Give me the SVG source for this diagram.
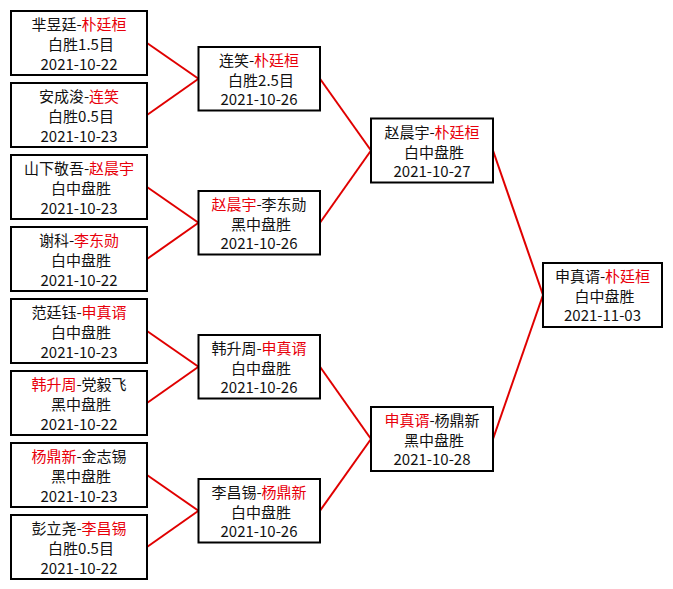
<svg xmlns="http://www.w3.org/2000/svg" width="673" height="589" viewBox="0 0 673 589">
<style>
.box{fill:#ffffff;stroke:#000000;stroke-width:2}
.t{font-family:"Noto Sans CJK SC","Noto Sans",sans-serif;font-size:15px;fill:#111111;text-anchor:middle}
.r{fill:#e8000b}
.con line{stroke:#e00000;stroke-width:2;fill:none}
</style>
<rect x="0" y="0" width="673" height="589" fill="#ffffff"/>
<g id="connectors" class="con">
<line x1="147" y1="43" x2="198.5" y2="78.75"/>
<line x1="147" y1="115" x2="198.5" y2="78.75"/>
<line x1="147" y1="187" x2="198.5" y2="222.75"/>
<line x1="147" y1="259" x2="198.5" y2="222.75"/>
<line x1="147" y1="331" x2="198.5" y2="366.75"/>
<line x1="147" y1="403" x2="198.5" y2="366.75"/>
<line x1="147" y1="475" x2="198.5" y2="510.75"/>
<line x1="147" y1="547" x2="198.5" y2="510.75"/>
<line x1="320" y1="78.75" x2="371" y2="150.5"/>
<line x1="320" y1="222.75" x2="371" y2="150.5"/>
<line x1="320" y1="366.75" x2="371" y2="439"/>
<line x1="320" y1="510.75" x2="371" y2="439"/>
<line x1="493" y1="150.5" x2="543" y2="295"/>
<line x1="493" y1="439" x2="543" y2="295"/>
</g>
<g id="leaf1"><rect class="box" x="11" y="11" width="136" height="64"/>
<text class="t" x="79" y="29.5">芈昱廷-<tspan class="r">朴廷桓</tspan></text>
<text class="t" x="81" y="50">白胜1.5目</text>
<text class="t" x="79" y="70">2021-10-22</text></g>
<g id="leaf2"><rect class="box" x="11" y="83" width="136" height="64"/>
<text class="t" x="79" y="101.5">安成浚-<tspan class="r">连笑</tspan></text>
<text class="t" x="81" y="122">白胜0.5目</text>
<text class="t" x="79" y="142">2021-10-23</text></g>
<g id="leaf3"><rect class="box" x="11" y="155" width="136" height="64"/>
<text class="t" x="79" y="173.5">山下敬吾-<tspan class="r">赵晨宇</tspan></text>
<text class="t" x="81" y="194">白中盘胜</text>
<text class="t" x="79" y="214">2021-10-23</text></g>
<g id="leaf4"><rect class="box" x="11" y="227" width="136" height="64"/>
<text class="t" x="79" y="245.5">谢科-<tspan class="r">李东勋</tspan></text>
<text class="t" x="81" y="266">白中盘胜</text>
<text class="t" x="79" y="286">2021-10-22</text></g>
<g id="leaf5"><rect class="box" x="11" y="299" width="136" height="64"/>
<text class="t" x="79" y="317.5">范廷钰-<tspan class="r">申真谞</tspan></text>
<text class="t" x="81" y="338">白中盘胜</text>
<text class="t" x="79" y="358">2021-10-23</text></g>
<g id="leaf6"><rect class="box" x="11" y="371" width="136" height="64"/>
<text class="t" x="79" y="389.5"><tspan class="r">韩升周</tspan>-党毅飞</text>
<text class="t" x="81" y="410">黑中盘胜</text>
<text class="t" x="79" y="430">2021-10-22</text></g>
<g id="leaf7"><rect class="box" x="11" y="443" width="136" height="64"/>
<text class="t" x="79" y="461.5"><tspan class="r">杨鼎新</tspan>-金志锡</text>
<text class="t" x="81" y="482">黑中盘胜</text>
<text class="t" x="79" y="502">2021-10-23</text></g>
<g id="leaf8"><rect class="box" x="11" y="515" width="136" height="64"/>
<text class="t" x="79" y="533.5">彭立尧-<tspan class="r">李昌锡</tspan></text>
<text class="t" x="81" y="554">白胜0.5目</text>
<text class="t" x="79" y="574">2021-10-22</text></g>
<g id="r2a"><rect class="box" x="198.5" y="47" width="121.5" height="63.5"/>
<text class="t" x="259" y="65.5">连笑-<tspan class="r">朴廷桓</tspan></text>
<text class="t" x="261" y="85.5">白胜2.5目</text>
<text class="t" x="259" y="104.5">2021-10-26</text></g>
<g id="r2b"><rect class="box" x="198.5" y="191" width="121.5" height="63.5"/>
<text class="t" x="259" y="209.5"><tspan class="r">赵晨宇</tspan>-李东勋</text>
<text class="t" x="261" y="229.5">黑中盘胜</text>
<text class="t" x="259" y="248.5">2021-10-26</text></g>
<g id="r2c"><rect class="box" x="198.5" y="335" width="121.5" height="63.5"/>
<text class="t" x="259" y="353.5">韩升周-<tspan class="r">申真谞</tspan></text>
<text class="t" x="261" y="373.5">白中盘胜</text>
<text class="t" x="259" y="392.5">2021-10-26</text></g>
<g id="r2d"><rect class="box" x="198.5" y="479" width="121.5" height="63.5"/>
<text class="t" x="259" y="497.5">李昌锡-<tspan class="r">杨鼎新</tspan></text>
<text class="t" x="261" y="517.5">白中盘胜</text>
<text class="t" x="259" y="536.5">2021-10-26</text></g>
<g id="r3a"><rect class="box" x="371" y="118.5" width="122" height="64"/>
<text class="t" x="432" y="137.5">赵晨宇-<tspan class="r">朴廷桓</tspan></text>
<text class="t" x="434" y="157.5">白中盘胜</text>
<text class="t" x="432" y="176.5">2021-10-27</text></g>
<g id="r3b"><rect class="box" x="371" y="407" width="122" height="64"/>
<text class="t" x="432" y="426"><tspan class="r">申真谞</tspan>-杨鼎新</text>
<text class="t" x="434" y="446">黑中盘胜</text>
<text class="t" x="432" y="465">2021-10-28</text></g>
<g id="final"><rect class="box" x="543" y="263" width="119" height="64"/>
<text class="t" x="602.5" y="282">申真谞-<tspan class="r">朴廷桓</tspan></text>
<text class="t" x="604.5" y="302">白中盘胜</text>
<text class="t" x="602.5" y="321">2021-11-03</text></g>
</svg>
